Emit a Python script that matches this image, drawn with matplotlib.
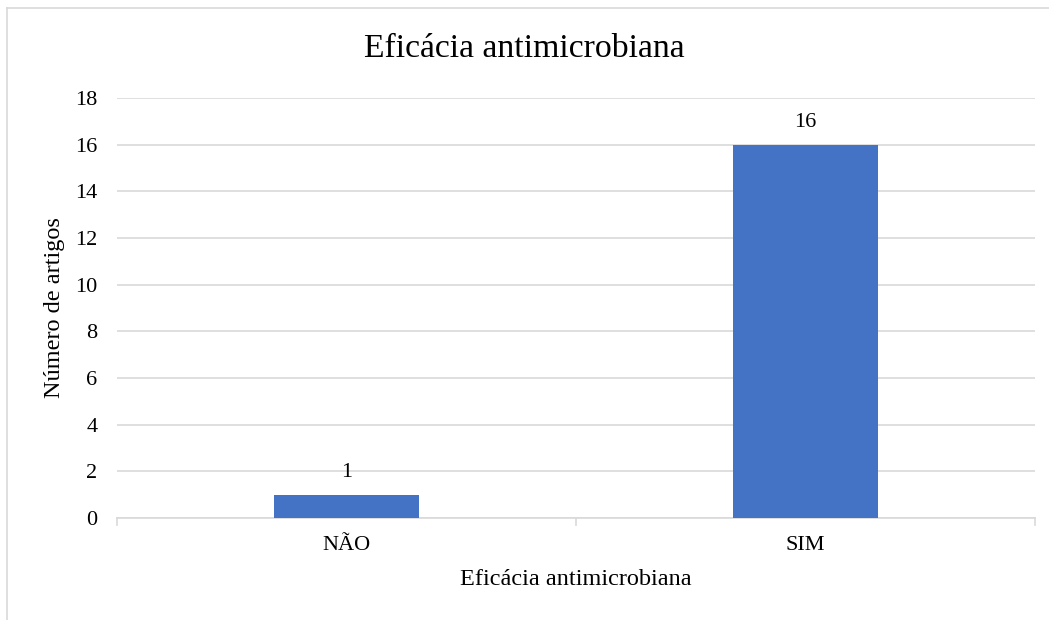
import matplotlib
matplotlib.use('Agg')
import matplotlib.pyplot as plt
from matplotlib.lines import Line2D

categorias = ['NÃO', 'SIM']
artigos = [1, 16]

plt.rcParams['font.family'] = ['Liberation Serif', 'DejaVu Serif']

fig = plt.figure(figsize=(10.49, 6.2), dpi=100)
ax = fig.add_axes([117/1049, 1 - 518/620, (1035 - 117)/1049, (518 - 98)/620])

x = list(range(len(categorias)))
bars = ax.bar(x, artigos, width=0.314, color='#4472C4', zorder=3)
for b, v in zip(bars, artigos):
    ax.text(b.get_x() + b.get_width()/2, v + 0.95, str(v), ha='center', va='center',
            fontsize=16, color='#000000')

ax.set_xlim(-0.5, 1.5)
ax.set_ylim(0, 18)
ax.set_yticks(range(0, 19, 2))
ax.set_xticks(x)
ax.set_xticklabels(categorias)
ax.grid(axis='y', color='#d9d9d9', linewidth=1.2, zorder=0)
ax.set_axisbelow(True)

for s in ['top', 'right', 'left']:
    ax.spines[s].set_visible(False)
ax.spines['bottom'].set_color('#d9d9d9')
ax.spines['bottom'].set_linewidth(1.2)

ax.tick_params(axis='y', length=0, labelsize=16, pad=14)
ax.tick_params(axis='x', length=0, labelsize=16, pad=13)
# marcas entre categorias no eixo x
for xb in [-0.5, 0.5, 1.5]:
    ax.plot([xb, xb], [0, -0.3], color='#d9d9d9', lw=1.2, clip_on=False, zorder=3)

ax.set_xlabel('Eficácia antimicrobiana', fontsize=17.5)
ax.set_ylabel('Número de artigos', fontsize=17.5)
ax.xaxis.set_label_coords(0.5, (518 - 569)/420)
ax.yaxis.set_label_coords((65 - 117)/918, 0.5)
fig.text(0.5, 1 - 49/620, 'Eficácia antimicrobiana', ha='center', va='center', fontsize=24.3)

# borda do gráfico
fig.add_artist(Line2D([7/1049, 1], [1 - 8/620, 1 - 8/620], color='#d9d9d9', lw=1.2))
fig.add_artist(Line2D([7/1049, 7/1049], [0, 1 - 8/620], color='#d9d9d9', lw=1.2))

fig.savefig('out.png', dpi=100)
